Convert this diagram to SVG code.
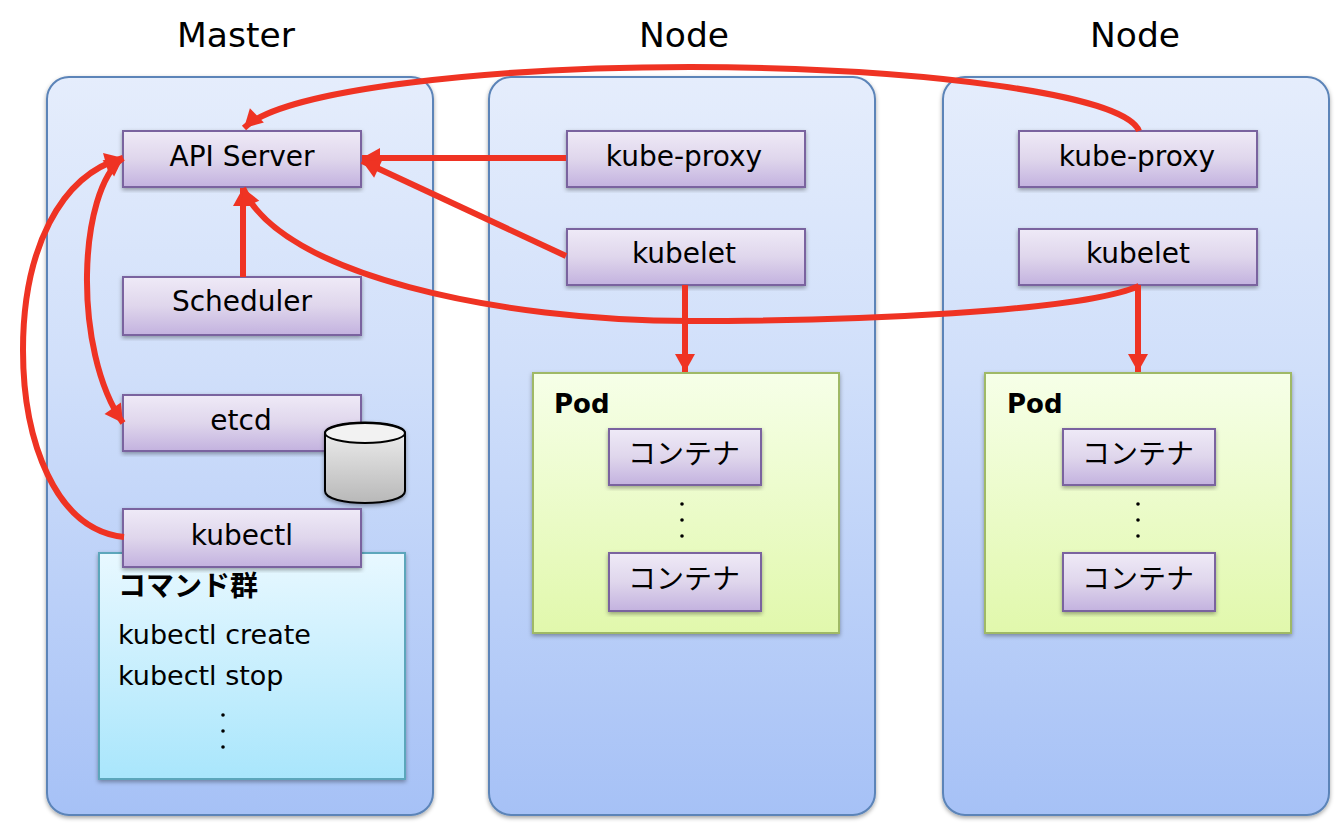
<svg xmlns="http://www.w3.org/2000/svg" width="1342" height="828" viewBox="0 0 1342 828">
<style>
text{font-family:"DejaVu Sans","Noto Sans CJK JP",sans-serif;fill:#000}
.t{font-size:28px;text-anchor:middle}
.l{font-size:27px}
.b{font-size:28px;font-weight:700}
.p{font-size:26px;font-weight:700}
.h{font-size:34.5px;text-anchor:middle}
.panel{fill:url(#gp);stroke:#5b84b8;stroke-width:2;filter:url(#sh)}
.box{fill:url(#gb);stroke:#7a639f;stroke-width:2;filter:url(#sh)}
.pod{fill:url(#gg);stroke:#9fb966;stroke-width:2;filter:url(#sh)}
.cmd{fill:url(#gc);stroke:#5ba6bb;stroke-width:2;filter:url(#sh)}
.c{fill:none;stroke:#ef3323;stroke-width:6}
.a{marker-end:url(#ah)}
.d{fill:#000}
</style>
<defs>
<linearGradient id="gp" x1="0" y1="0" x2="0" y2="1"><stop offset="0" stop-color="#e5edfc"/><stop offset=".4" stop-color="#d0dffa"/><stop offset="1" stop-color="#a6c1f6"/></linearGradient>
<linearGradient id="gb" x1="0" y1="0" x2="0" y2="1"><stop offset="0" stop-color="#efeaf7"/><stop offset=".5" stop-color="#dfd6ec"/><stop offset="1" stop-color="#c3b2df"/></linearGradient>
<linearGradient id="gg" x1="0" y1="0" x2="0" y2="1"><stop offset="0" stop-color="#f6ffe8"/><stop offset="1" stop-color="#e1f8ac"/></linearGradient>
<linearGradient id="gc" x1="0" y1="0" x2="0" y2="1"><stop offset="0" stop-color="#e8f8ff"/><stop offset="1" stop-color="#a9e6fc"/></linearGradient>
<linearGradient id="gd" x1="0" y1="0" x2="0" y2="1"><stop offset="0" stop-color="#f2f2f2"/><stop offset="1" stop-color="#b8b8b8"/></linearGradient>
<filter id="sh" x="-10%" y="-10%" width="120%" height="120%"><feDropShadow dx="0" dy="2" stdDeviation="2" flood-color="#000" flood-opacity=".35"/></filter>
<marker id="ah" markerUnits="userSpaceOnUse" markerWidth="22" markerHeight="22" refX="20" refY="11" orient="auto"><path d="M2 1L20 11L2 21Z" fill="#ef3323"/></marker>
<marker id="as" markerUnits="userSpaceOnUse" markerWidth="22" markerHeight="22" refX="2" refY="11" orient="auto"><path d="M20 1L2 11L20 21Z" fill="#ef3323"/></marker>
</defs>
<g id="titles">
<text class="h" x="236" y="47">Master</text>
<text class="h" x="684" y="47">Node</text>
<text class="h" x="1135" y="47">Node</text>
</g>
<g id="master"><rect class="panel" x="47" y="77" width="386" height="738" rx="22"/></g>
<g id="node1"><rect class="panel" x="489" y="77" width="386" height="738" rx="22"/></g>
<g id="node2"><rect class="panel" x="943" y="77" width="386" height="738" rx="22"/></g>
<g id="commands">
<rect class="cmd" x="99" y="553" width="306" height="226"/>
<text class="b" x="118" y="596">コマンド群</text>
<text class="l" x="118" y="644">kubectl create</text>
<text class="l" x="118" y="685">kubectl stop</text>
<circle class="d" cx="223" cy="715" r="1.8"/><circle class="d" cx="223" cy="731" r="1.8"/><circle class="d" cx="223" cy="747" r="1.8"/>
</g>
<g id="api-server"><rect class="box" x="123" y="131" width="238" height="56"/><text class="t" x="242" y="166">API Server</text></g>
<g id="scheduler"><rect class="box" x="123" y="277" width="238" height="58"/><text class="t" x="242" y="311">Scheduler</text></g>
<g id="etcd"><rect class="box" x="123" y="395" width="238" height="56"/><text class="t" x="241" y="430">etcd</text></g>
<g id="etcd-db">
<path d="M325 433C325 419 405 419 405 433V491C405 507 325 507 325 491Z" fill="url(#gd)" stroke="#000" stroke-width="2" filter="url(#sh)"/>
<ellipse cx="365" cy="433" rx="40" ry="10" fill="#f2f2f2" stroke="#000" stroke-width="2"/>
</g>
<g id="kubectl"><rect class="box" x="123" y="509" width="238" height="58"/><text class="t" x="242" y="545">kubectl</text></g>
<g id="kube-proxy-1"><rect class="box" x="567" y="131" width="238" height="56"/><text class="t" x="684" y="166">kube-proxy</text></g>
<g id="kubelet-1"><rect class="box" x="567" y="229" width="238" height="56"/><text class="t" x="684" y="263">kubelet</text></g>
<g id="pod-1">
<rect class="pod" x="533" y="373" width="306" height="260"/>
<text class="p" x="554" y="413">Pod</text>
<rect class="box" x="609" y="429" width="152" height="56"/><text class="t" x="684" y="464">コンテナ</text>
<circle class="d" cx="682" cy="504" r="1.8"/><circle class="d" cx="682" cy="520" r="1.8"/><circle class="d" cx="682" cy="536" r="1.8"/>
<rect class="box" x="609" y="553" width="152" height="58"/><text class="t" x="684" y="589">コンテナ</text>
</g>
<g id="kube-proxy-2"><rect class="box" x="1019" y="131" width="238" height="56"/><text class="t" x="1137" y="166">kube-proxy</text></g>
<g id="kubelet-2"><rect class="box" x="1019" y="229" width="238" height="56"/><text class="t" x="1138" y="263">kubelet</text></g>
<g id="pod-2">
<rect class="pod" x="985" y="373" width="306" height="260"/>
<text class="p" x="1007" y="413">Pod</text>
<rect class="box" x="1063" y="429" width="152" height="56"/><text class="t" x="1138" y="464">コンテナ</text>
<circle class="d" cx="1138" cy="504" r="1.8"/><circle class="d" cx="1138" cy="520" r="1.8"/><circle class="d" cx="1138" cy="536" r="1.8"/>
<rect class="box" x="1063" y="553" width="152" height="58"/><text class="t" x="1138" y="589">コンテナ</text>
</g>
<g id="connectors">
<path class="c a" d="M1139 131C1125 95 930 68 690 67C500 67 285 88 244 128"/>
<path class="c a" d="M566 158H362"/>
<path class="c a" d="M566 256L362 161"/>
<path class="c a" d="M243 277V188"/>
<path class="c a" d="M1139 286C1080 312 850 321 690 321C500 321 280 275 243 188"/>
<path class="c a" d="M685 285V372"/>
<path class="c a" d="M1138 285V372"/>
<path class="c a" style="marker-start:url(#as)" d="M123 158C78 190 72 350 123 423"/>
<path class="c a" d="M124 537C55 530 23 440 23 350C23 250 60 175 123 158"/>
</g>
</svg>
